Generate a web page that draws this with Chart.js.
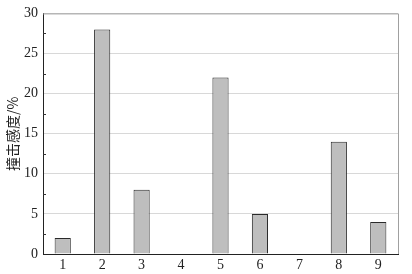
<!DOCTYPE html>
<html>
<head>
<meta charset="utf-8">
<script src="https://cdn.jsdelivr.net/npm/chart.js@4/dist/chart.umd.min.js"></script>
<style>
  html, body { margin: 0; padding: 0; background: #fff; }
  #wrap { width: 412px; height: 274px; }
</style>
</head>
<body>
<div id="wrap"><canvas id="myChart"></canvas></div>
<script>
const categories = ['1', '2', '3', '4', '5', '6', '7', '8', '9'];
const sensitivity = [2, 28, 8, 0, 22, 5, 0, 14, 4];
const yTitle = '撞击感度/%';

// short inward ticks at the half steps plus the grey frame on top and right
const frame = {
    id: 'frame',
    afterDraw(chart) {
        const { ctx, chartArea: a, scales: { y } } = chart;
        ctx.save();
        ctx.strokeStyle = '#333';
        ctx.lineWidth = 1;
        for (let v = 2.5; v < 30; v += 5) {
            const py = Math.round(y.getPixelForValue(v)) + 0.5;
            ctx.beginPath();
            ctx.moveTo(a.left, py);
            ctx.lineTo(a.left + 3, py);
            ctx.stroke();
        }
        ctx.strokeStyle = '#a0a0a0';
        ctx.beginPath();
        ctx.moveTo(a.left, a.top + 0.5);
        ctx.lineTo(a.right + 0.5, a.top + 0.5);
        ctx.lineTo(a.right + 0.5, a.bottom);
        ctx.stroke();
        ctx.restore();
    }
};

const ctx = document.getElementById('myChart');

const sensitivityChart = new Chart(ctx, {
    type: 'bar',
    data: {
        labels: categories,
        datasets: [{
            data: sensitivity,
            backgroundColor: '#bebebe',
            borderColor: '#2a2a2a',
            borderWidth: 1,
            barPercentage: 0.41,
            categoryPercentage: 1
        }]
    },
    options: {
        responsive: true,
        maintainAspectRatio: false,
        animation: false,
        layout: { padding: { top: 10, right: 14, left: 0, bottom: 0 } },
        plugins: {
            legend: { display: false },
            tooltip: { enabled: false }
        },
        scales: {
            x: {
                grid: { display: false, drawTicks: false },
                border: { color: '#222', width: 1 },
                ticks: {
                    color: '#222',
                    padding: 3,
                    font: { family: 'Liberation Serif', size: 14 }
                },
                afterFit(scale) { scale.height = 20; }
            },
            y: {
                min: 0,
                max: 30,
                grid: { color: '#d8d8d8', drawTicks: false },
                border: { color: '#222', width: 1 },
                ticks: {
                    stepSize: 5,
                    color: '#222',
                    padding: 5,
                    font: { family: 'Liberation Serif', size: 14 }
                },
                title: {
                    display: true,
                    text: yTitle,
                    color: '#222',
                    padding: { top: 4, bottom: 2 },
                    font: { family: 'Noto Sans CJK SC', size: 14 }
                },
                afterFit(scale) { scale.width = 43; }
            }
        }
    },
    plugins: [frame]
});
</script>
</body>
</html>
